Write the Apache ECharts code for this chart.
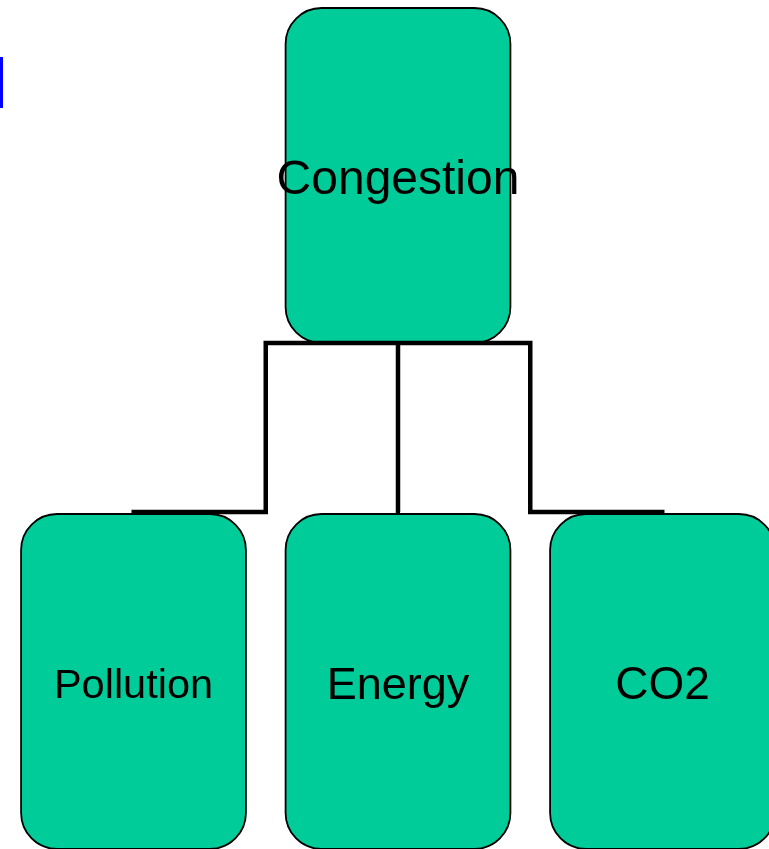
<!DOCTYPE html>
<html><head><meta charset="utf-8">
<script src="https://cdn.jsdelivr.net/npm/echarts@6/dist/echarts.min.js"></script>
<style>html,body{margin:0;padding:0;background:#fff;overflow:hidden}#c{width:769px;height:849px}</style>
</head><body><div id="c"></div>
<script>
// ---- data ----
const nodeNames = ['Congestion', 'Pollution', 'Energy', 'CO2'];
const nodeColumns = [1, 0, 1, 2];
const nodeLevels = [0, 1, 1, 1];
const linkSources = [0, 0, 0];
const linkTargets = [1, 2, 3];

// ---- styles ----
const labelSize = { Congestion: 48, Pollution: 41.5, Energy: 45, CO2: 46 };
const BOX_W = 0.85;   // in column units
const BOX_H = 0.662;  // in level units
const FILL = '#00CC99';
const FONT = '"Liberation Sans", Arial, sans-serif';

const nodeData = nodeNames.map((n, i) => [nodeColumns[i], nodeLevels[i], i]);
const linkData = linkSources.map((s, i) => {
  const t = linkTargets[i];
  return [nodeColumns[s], nodeLevels[s], nodeColumns[t], nodeLevels[t]];
});

function renderBox(params, api) {
  const c = api.coord([api.value(0), api.value(1)]);
  const s = api.size([BOX_W, BOX_H]);
  const name = nodeNames[api.value(2)];
  const fs = labelSize[name];
  return {
    type: 'group',
    children: [
      { type: 'rect',
        shape: { x: c[0] - s[0] / 2, y: c[1] - s[1] / 2, width: s[0], height: s[1], r: 36 },
        style: { fill: FILL, stroke: '#000', lineWidth: 1.8 } },
      { type: 'text', x: c[0], y: c[1] + fs * 0.11,
        style: { text: name, fill: '#000', font: fs + 'px ' + FONT,
                 align: 'center', verticalAlign: 'middle' } }
    ]
  };
}

function renderLink(params, api) {
  const p = api.coord([api.value(0), api.value(1)]);
  const c = api.coord([api.value(2), api.value(3)]);
  const s = api.size([BOX_W, BOX_H]);
  const elbowX = api.coord([(api.value(0) + api.value(2)) / 2, 0])[0];
  const pBottom = p[1] + s[1] / 2;
  const cTop = c[1] - s[1] / 2 - 2;
  return {
    type: 'polyline',
    shape: { points: [[p[0], pBottom], [elbowX, pBottom], [elbowX, cTop], [c[0] + (c[0] < p[0] ? -2 : 2), cTop]] },
    style: { stroke: '#000', lineWidth: 4.5, fill: null, lineJoin: 'miter', lineCap: 'butt' }
  };
}

const chart = echarts.init(document.getElementById('c'), null, { renderer: 'canvas' });
chart.setOption({
  animation: false,
  backgroundColor: '#fff',
  grid: { left: 133.5, top: 175.5, width: 529, height: 506 },
  xAxis: { type: 'value', min: 0, max: 2, show: false },
  yAxis: { type: 'value', min: 0, max: 1, inverse: true, show: false },
  graphic: [
    { type: 'rect', shape: { x: 0, y: 57, width: 3, height: 51 }, style: { fill: '#0000FF' } }
  ],
  series: [
    { type: 'custom', renderItem: renderBox, data: nodeData, clip: false, z: 2 },
    { type: 'custom', renderItem: renderLink, data: linkData, clip: false, z: 3 }
  ]
});
</script>
</body></html>
